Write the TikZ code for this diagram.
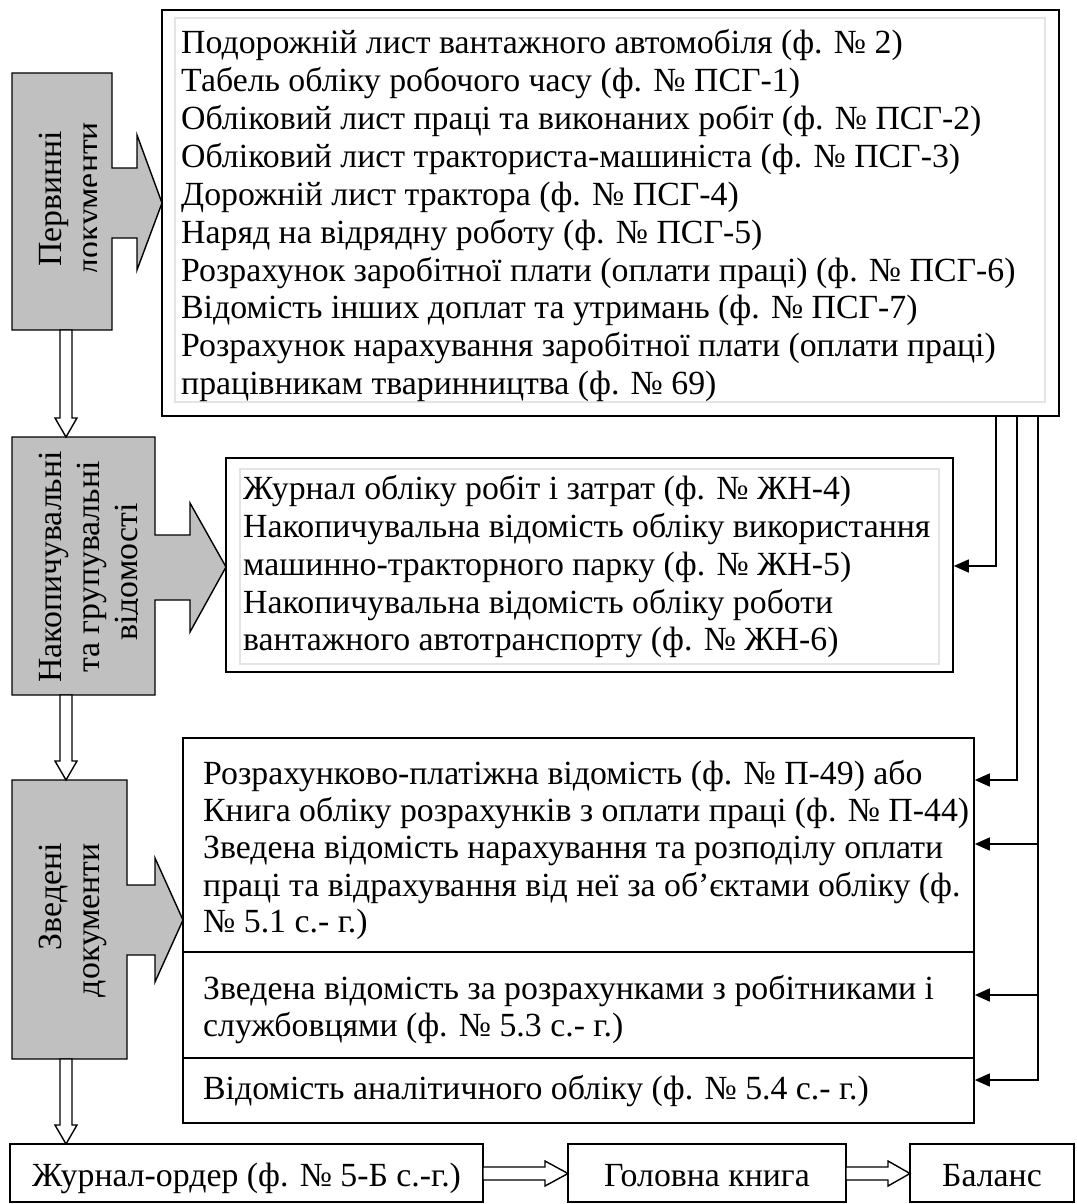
\documentclass[tikz,border=0pt]{standalone}
\usepackage{fontspec}
\setmainfont{Liberation Serif}
\usetikzlibrary{arrows.meta}
\definecolor{grayfill}{HTML}{C0C0C0}
\definecolor{faint}{HTML}{E4E4E4}
\begin{document}
\begin{tikzpicture}[x=1pt,y=-1pt,
  txt/.style={anchor=base west, inner sep=0pt, font=\fontsize{33.8}{37.7}\selectfont},
  ctxt/.style={anchor=base, inner sep=0pt, font=\fontsize{33.8}{37.7}\selectfont},
  rtxt/.style={rotate=90, inner sep=0pt, font=\fontsize{33.8}{37.7}\selectfont},
  box/.style={draw, line width=1.6pt, inner sep=0pt},
  inbox/.style={draw=faint, line width=1.2pt, inner sep=0pt},
  shapebox/.style={draw, line width=1.4pt, fill=grayfill},
  hollow/.style={draw, line width=1.4pt, fill=white},
  conn/.style={line width=1.5pt, -{Triangle[length=15pt,width=13pt]}}]
\useasboundingbox (0,0) rectangle (1076,1204);

% ---------- main boxes ----------
\node[box, minimum width=897pt, minimum height=406pt] (prim) at (610.5,213) {};
\node[inbox, minimum width=870pt, minimum height=384pt] (primin) at (610,210) {};
\node[box, minimum width=727pt, minimum height=214pt] (acc) at (589.5,565) {};
\node[inbox, minimum width=699pt, minimum height=195pt] (accin) at (589.5,566.5) {};
\node[box, minimum width=791pt, minimum height=385pt] (summ) at (578.5,930.5) {};
\draw[line width=1.6pt] (183,952) -- (974,952);
\draw[line width=1.6pt] (183,1058) -- (974,1058);
\node[box, minimum width=473pt, minimum height=58pt] (jo) at (246.5,1173) {};
\node[box, minimum width=278pt, minimum height=58pt] (gk) at (707,1173) {};
\node[box, minimum width=164pt, minimum height=58pt] (bal) at (992,1173) {};

% ---------- texts of the top box ----------
\node[txt] (p1) at (181,54) {Подорожній лист вантажного автомобіля (ф. № 2)};
\node[txt] (p2) at (181,92) {Табель обліку робочого часу (ф. № ПСГ-1)};
\node[txt] (p3) at (181,130) {Обліковий лист праці та виконаних робіт (ф. № ПСГ-2)};
\node[txt] (p4) at (181,167) {Обліковий лист тракториста-машиніста (ф. № ПСГ-3)};
\node[txt] (p5) at (181,205) {Дорожній лист трактора (ф. № ПСГ-4)};
\node[txt] (p6) at (181,243) {Наряд на відрядну роботу (ф. № ПСГ-5)};
\node[txt] (p7) at (181,281) {Розрахунок заробітної плати (оплати праці) (ф. № ПСГ-6)};
\node[txt] (p8) at (181,318) {Відомість інших доплат та утримань (ф. № ПСГ-7)};
\node[txt] (p9) at (181,356) {Розрахунок нарахування заробітної плати (оплати праці)};
\node[txt] (p10) at (181,394) {працівникам тваринництва (ф. № 69)};

% ---------- texts of box 2 ----------
\node[txt] (a1) at (243,499) {Журнал обліку робіт і затрат (ф. № ЖН-4)};
\node[txt] (a2) at (243,537) {Накопичувальна відомість обліку використання};
\node[txt] (a3) at (243,575) {машинно-тракторного парку (ф. № ЖН-5)};
\node[txt] (a4) at (243,613) {Накопичувальна відомість обліку роботи};
\node[txt] (a5) at (243,650) {вантажного автотранспорту (ф. № ЖН-6)};

% ---------- texts of box 3 ----------
\node[txt] (s1) at (203,784) {Розрахунково-платіжна відомість (ф. № П-49) або};
\node[txt] (s2) at (203,821) {Книга обліку розрахунків з оплати праці (ф. № П-44)};
\node[txt] (s3) at (203,858) {Зведена відомість нарахування та розподілу оплати};
\node[txt] (s4) at (203,896) {праці та відрахування від неї за об’єктами обліку (ф.};
\node[txt] (s5) at (203,932) {№ 5.1 с.- г.)};
\node[txt] (s6) at (203,999) {Зведена відомість за розрахунками з робітниками і};
\node[txt] (s7) at (203,1036) {службовцями (ф. № 5.3 с.- г.)};
\node[txt] (s8) at (203,1099) {Відомість аналітичного обліку (ф. № 5.4 с.- г.)};

% ---------- bottom row texts ----------
\node[ctxt] (jot) at (246.5,1186) {Журнал-ордер (ф. № 5-Б с.-г.)};
\node[ctxt] (gkt) at (707,1186) {Головна книга};
\node[ctxt] (balt) at (992,1186) {Баланс};

% ---------- grey box-arrows ----------
\draw[shapebox] (12,73) -- (112,73) -- (112,168) -- (137,168) -- (137,135) -- (162,203)
  -- (137,270) -- (137,238) -- (112,238) -- (112,330) -- (12,330) -- cycle;
\begin{scope}
  \clip (12,73) rectangle (96,330);
  \node[rtxt, anchor=base] (g1a) at (61,199) {Первинні};
  \node[rtxt, anchor=base] (g1b) at (99,199) {документи};
\end{scope}

\draw[shapebox] (12,437) -- (155,437) -- (155,535) -- (190,535) -- (190,503) -- (226,567)
  -- (190,632) -- (190,600) -- (155,600) -- (155,695) -- (12,695) -- cycle;
\begin{scope}
  \clip (12,437) rectangle (137,695);
  \node[rtxt, anchor=base] (g2a) at (61,567) {Накопичувальні};
  \node[rtxt, anchor=base] (g2b) at (99,567) {та групувальні};
  \node[rtxt, anchor=base] (g2c) at (137,572) {відомості};
\end{scope}

\draw[shapebox] (12,780) -- (127,780) -- (127,885) -- (155,885) -- (155,858) -- (183,920)
  -- (155,982) -- (155,955) -- (127,955) -- (127,1059) -- (12,1059) -- cycle;
\node[rtxt, anchor=base east] (g3a) at (61,843) {Зведені};
\node[rtxt, anchor=base east] (g3b) at (99,843) {документи};

% ---------- hollow arrows ----------
\draw[hollow] (60,330) -- (72,330) -- (72,418) -- (77,418) -- (66,437) -- (55,418) -- (60,418) -- cycle;
\draw[hollow] (60,695) -- (72,695) -- (72,761) -- (77,761) -- (66,780) -- (55,761) -- (60,761) -- cycle;
\draw[hollow] (60,1059) -- (72,1059) -- (72,1125) -- (77,1125) -- (66,1144) -- (55,1125) -- (60,1125) -- cycle;
\draw[hollow] (483,1167) -- (545,1167) -- (545,1161) -- (568,1173.5) -- (545,1186) -- (545,1180) -- (483,1180) -- cycle;
\draw[hollow] (846,1167) -- (888,1167) -- (888,1161) -- (910,1173.5) -- (888,1186) -- (888,1180) -- (846,1180) -- cycle;

% ---------- connectors ----------
\coordinate (c1) at (996,0);
\coordinate (c2) at (1017,0);
\coordinate (c3) at (1038,0);
\coordinate (r1) at (0,566);
\coordinate (r2) at (0,780);
\coordinate (r3) at (0,844);
\coordinate (r4) at (0,995);
\coordinate (r5) at (0,1080);
\draw[conn] (prim.south -| c1) |- (acc.east |- r1);
\draw[conn] (prim.south -| c2) |- (summ.east |- r2);
\draw[conn] (prim.south -| c3) |- (summ.east |- r5);
\draw[conn] (c3 |- r3) -- (summ.east |- r3);
\draw[conn] (c3 |- r4) -- (summ.east |- r4);
\end{tikzpicture}
\end{document}
